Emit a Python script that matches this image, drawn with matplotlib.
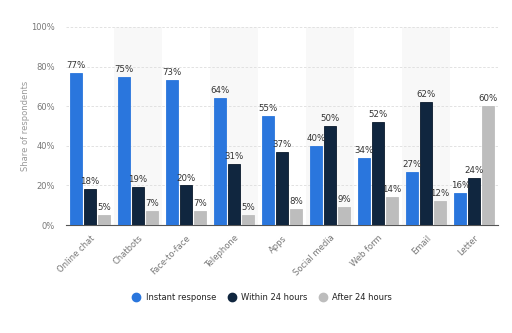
import numpy as np
import matplotlib.pyplot as plt
from matplotlib.lines import Line2D

categories = ['Online chat', 'Chatbots', 'Face-to-face', 'Telephone', 'Apps',
              'Social media', 'Web form', 'Email', 'Letter']
instant = [77, 75, 73, 64, 55, 40, 34, 27, 16]
within_24 = [18, 19, 20, 31, 37, 50, 52, 62, 24]
after_24 = [5, 7, 7, 5, 8, 9, 14, 12, 60]
series_names = ['Instant response', 'Within 24 hours', 'After 24 hours']
colors = ['#2a76dd', '#10263f', '#bdbdbd']

fig = plt.figure(figsize=(5.12, 3.33), dpi=100)
ax = fig.add_axes([0.129, 0.324, 0.844, 0.595])

x = np.arange(len(categories))
w = 0.26
off = 0.29

# alternating background bands
for i in x:
    if i % 2 == 1:
        ax.axvspan(i - 0.5, i + 0.5, color='#f8f8f8', zorder=0, lw=0)

for k, (vals, c) in enumerate(zip([instant, within_24, after_24], colors)):
    pos = x + (k - 1) * off
    ax.bar(pos, vals, width=w, color=c, zorder=3,
           edgecolor='#0a1a2c' if k == 1 else c, linewidth=0.6)
    for p, v in zip(pos, vals):
        ax.text(p, v + 1.5, f'{v}%', ha='center', va='bottom',
                fontsize=6.2, color='#333333', zorder=4)

ax.set_xlim(-0.5, len(categories) - 0.5)
ax.set_ylim(0, 100)
ax.set_yticks([0, 20, 40, 60, 80, 100])
ax.set_yticklabels([f'{t}%' for t in range(0, 101, 20)])
ax.yaxis.grid(True, linestyle=(0, (3, 2)), color='#dddddd', linewidth=0.6, zorder=1)
ax.set_axisbelow(True)
ax.set_xticks(x)
ax.set_xticklabels(categories, rotation=45, ha='right', rotation_mode='anchor')
ax.tick_params(axis='both', length=0, labelsize=6, colors='#777777')
ax.tick_params(axis='x', pad=6)
ax.tick_params(axis='y', pad=8)
for s in ['top', 'right', 'left']:
    ax.spines[s].set_visible(False)
ax.spines['bottom'].set_color('#555555')
ax.spines['bottom'].set_linewidth(0.8)
ax.set_ylabel('Share of respondents', fontsize=6, color='#999999', labelpad=1)

handles = [Line2D([], [], marker='o', linestyle='none', markersize=6,
                  markerfacecolor=c, markeredgecolor=c) for c in colors]
fig.legend(handles, series_names, loc='center', bbox_to_anchor=(0.508, 0.107),
           ncol=3, frameon=False, fontsize=6, handletextpad=0.1,
           columnspacing=0.9, labelcolor='#222222')

plt.savefig('out.png', dpi=100)
